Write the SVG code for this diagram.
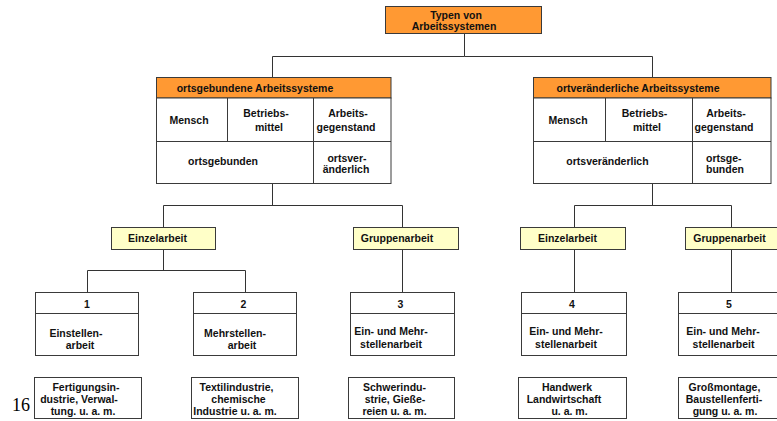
<svg xmlns="http://www.w3.org/2000/svg" width="777" height="421" viewBox="0 0 777 421">
  <style>
    .o{fill:#FF9933;stroke:#3a3a3a;stroke-width:1}
    .y{fill:#FFFFC8;stroke:#3a3a3a;stroke-width:1}
    .w{fill:#FFFFFF;stroke:#3a3a3a;stroke-width:1}
    .d{stroke:#3a3a3a;stroke-width:1;fill:none}
    .links path{stroke:#333;stroke-width:1;fill:none}
    text{font-family:"Liberation Sans",Arial,sans-serif;font-weight:bold;font-size:10.5px;fill:#111;text-anchor:middle}
    .s{text-anchor:start}
  </style>
  <rect width="777" height="421" fill="#FFFFFF"/>

  <!-- connectors -->
  <g class="links" id="connectors">
    <path d="M464.5,34 V56.5 H272.5 V77"/>
    <path d="M464.5,56.5 H652.5 V77"/>
    <path d="M272.5,183.5 V205.5"/>
    <path d="M163.5,227 V205.5 H402.5 V227"/>
    <path d="M163.5,249.5 V270.5"/>
    <path d="M87.5,292 V270.5 H245.5 V292"/>
    <path d="M402.5,249.5 V292"/>
    <path d="M652.5,183.5 V205.5"/>
    <path d="M574.5,227 V205.5 H731.5 V227"/>
    <path d="M574.5,249.5 V292"/>
    <path d="M731.5,249.5 V292"/>
  </g>

  <!-- root -->
  <g id="root">
    <rect class="o" x="385.5" y="6.5" width="156" height="27"/>
    <text x="456" y="18.5">Typen von</text>
    <text x="454" y="30">Arbeitssystemen</text>
  </g>

  <!-- stationary work systems -->
  <g id="ortsgebunden">
    <rect class="o" x="156.5" y="77.5" width="234.5" height="20.5"/>
    <text x="255" y="91.5">ortsgebundene Arbeitssysteme</text>
    <rect class="w" x="156.5" y="98" width="234.5" height="85.5"/>
    <path class="d" d="M156.5,141.5 H391 M227.5,98 V141.5 M313.5,98 V183.5"/>
    <text x="189" y="124">Mensch</text>
    <text x="266" y="117">Betriebs-</text>
    <text x="269" y="130.5">mittel</text>
    <text x="348" y="117">Arbeits-</text>
    <text x="346" y="130.5">gegenstand</text>
    <text x="223" y="165">ortsgebunden</text>
    <text x="347" y="161.5">ortsver-</text>
    <text x="346" y="173">änderlich</text>
  </g>

  <!-- mobile work systems -->
  <g id="ortveraenderlich">
    <rect class="o" x="533.5" y="77.5" width="237.5" height="20.5"/>
    <text x="638" y="92">ortveränderliche Arbeitssysteme</text>
    <rect class="w" x="533.5" y="98" width="237.5" height="85.5"/>
    <path class="d" d="M533.5,141.5 H771 M605.5,98 V141.5 M692.5,98 V183.5"/>
    <text x="568" y="124">Mensch</text>
    <text x="644.5" y="117">Betriebs-</text>
    <text x="647" y="130.5">mittel</text>
    <text x="726" y="117">Arbeits-</text>
    <text x="724" y="130.5">gegenstand</text>
    <text x="607.5" y="165">ortsveränderlich</text>
    <text class="s" x="706" y="161.5">ortsge-</text>
    <text class="s" x="706" y="173">bunden</text>
  </g>

  <!-- work organisation -->
  <g id="einzel-links">
    <rect class="y" x="111.5" y="227.5" width="104" height="22"/>
    <text x="157.5" y="242">Einzelarbeit</text>
  </g>
  <g id="gruppe-links">
    <rect class="y" x="353.5" y="227.5" width="105" height="22"/>
    <text x="397" y="242">Gruppenarbeit</text>
  </g>
  <g id="einzel-rechts">
    <rect class="y" x="520.5" y="227.5" width="105" height="22"/>
    <text x="567.5" y="242">Einzelarbeit</text>
  </g>
  <g id="gruppe-rechts">
    <rect class="y" x="685.5" y="227.5" width="105" height="22"/>
    <text x="729.5" y="242">Gruppenarbeit</text>
  </g>

  <!-- types 1..5 -->
  <g id="typ1">
    <rect class="w" x="35.5" y="292.5" width="103" height="63"/>
    <path class="d" d="M35.5,313.5 H138.5"/>
    <text x="87" y="307.5">1</text>
    <text x="76" y="336.5">Einstellen-</text>
    <text x="80" y="349">arbeit</text>
  </g>
  <g id="typ2">
    <rect class="w" x="193.5" y="292.5" width="103" height="63"/>
    <path class="d" d="M193.5,313.5 H296.5"/>
    <text x="243.5" y="307.5">2</text>
    <text x="235" y="336.5">Mehrstellen-</text>
    <text x="242" y="349">arbeit</text>
  </g>
  <g id="typ3">
    <rect class="w" x="350.5" y="292.5" width="104" height="63"/>
    <path class="d" d="M350.5,313.5 H454.5"/>
    <text x="400.5" y="307.5">3</text>
    <text x="391" y="334.5">Ein- und Mehr-</text>
    <text x="391" y="348">stellenarbeit</text>
  </g>
  <g id="typ4">
    <rect class="w" x="521.5" y="292.5" width="105" height="63"/>
    <path class="d" d="M521.5,313.5 H626.5"/>
    <text x="572" y="307.5">4</text>
    <text x="566" y="334.5">Ein- und Mehr-</text>
    <text x="566" y="348">stellenarbeit</text>
  </g>
  <g id="typ5">
    <rect class="w" x="678.5" y="292.5" width="105" height="63"/>
    <path class="d" d="M678.5,313.5 H783.5"/>
    <text x="729" y="307.5">5</text>
    <text x="723" y="334.5">Ein- und Mehr-</text>
    <text x="723.5" y="348">stellenarbeit</text>
  </g>

  <!-- application areas -->
  <g id="bereich1">
    <rect class="w" x="34.5" y="377.5" width="107" height="41"/>
    <text x="86" y="390.5">Fertigungsin-</text>
    <text x="79" y="402.5">dustrie, Verwal-</text>
    <text x="83" y="414.5">tung. u. a. m.</text>
  </g>
  <g id="bereich2">
    <rect class="w" x="191.5" y="377.5" width="107" height="41"/>
    <text x="236.5" y="390.5">Textilindustrie,</text>
    <text x="238.5" y="402.5">chemische</text>
    <text x="235" y="414.5">Industrie u. a. m.</text>
  </g>
  <g id="bereich3">
    <rect class="w" x="348.5" y="377.5" width="106" height="41"/>
    <text x="394.5" y="390.5">Schwerindu-</text>
    <text x="395" y="402.5">strie, Gieße-</text>
    <text x="394.5" y="414.5">reien u. a. m.</text>
  </g>
  <g id="bereich4">
    <rect class="w" x="518.5" y="377.5" width="108" height="41"/>
    <text x="567" y="390.5">Handwerk</text>
    <text x="564" y="402.5">Landwirtschaft</text>
    <text x="569.5" y="414.5">u. a. m.</text>
  </g>
  <g id="bereich5">
    <rect class="w" x="678.5" y="377.5" width="107" height="41"/>
    <text x="724.5" y="390.5">Großmontage,</text>
    <text x="724" y="402.5">Baustellenferti-</text>
    <text x="725" y="414.5">gung u. a. m.</text>
  </g>

  <!-- page number -->
  <text x="12" y="410.5" style="font-family:'Liberation Serif','Times New Roman',serif;font-weight:normal;font-size:18px;text-anchor:start;fill:#000">16</text>
</svg>
